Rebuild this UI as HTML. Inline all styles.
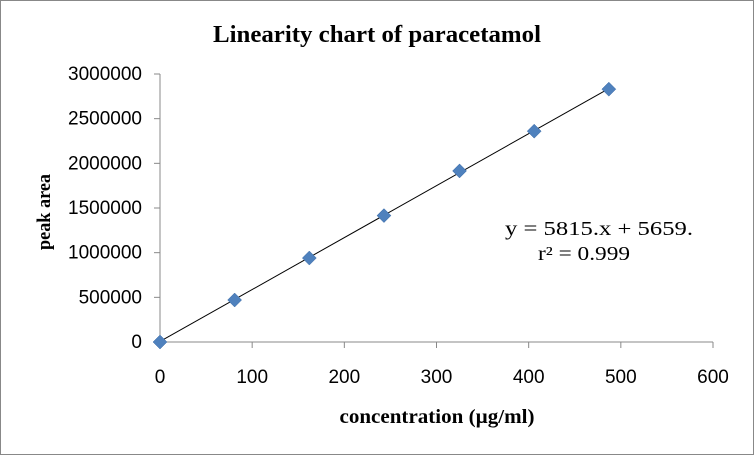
<!DOCTYPE html>
<html><head><meta charset="utf-8"><style>
body{margin:0;background:#fff}
svg text{font-family:"Liberation Sans",sans-serif}
.serif{font-family:"Liberation Serif",serif}
</style></head><body>
<svg width="754" height="455" viewBox="0 0 754 455">
<rect x="0.5" y="0.5" width="753" height="454" fill="#fff" stroke="#888"/>
<text class="serif" x="377" y="42" text-anchor="middle" font-size="24" font-weight="bold" textLength="328" lengthAdjust="spacingAndGlyphs">Linearity chart of paracetamol</text>
<g id="axes"></g>
<g id="marks"></g>
<text class="serif" x="437" y="423" text-anchor="middle" font-size="20" font-weight="bold" textLength="195" lengthAdjust="spacingAndGlyphs">concentration (µg/ml)</text>
<text class="serif" transform="translate(50,212) rotate(-90)" text-anchor="middle" font-size="19" font-weight="bold" textLength="76" lengthAdjust="spacingAndGlyphs">peak area</text>
<text class="serif" x="599" y="235" text-anchor="middle" font-size="20" textLength="188" lengthAdjust="spacingAndGlyphs">y = 5815.x + 5659.</text>
<text class="serif" x="584" y="260" text-anchor="middle" font-size="20" textLength="92" lengthAdjust="spacingAndGlyphs">r² = 0.999</text>
</svg>
<script>
const xTicks=[0,100,200,300,400,500,600];
const yTicks=[0,500000,1000000,1500000,2000000,2500000,3000000];
const concentrations=[0,81,162,243,325,406,487];
const peakAreas=[0,470000,940000,1415000,1915000,2360000,2830000];
const slope=5815, intercept=5659;
const NS='http://www.w3.org/2000/svg';
const X=v=>160+v*(713-160)/600;
const Y=v=>342-v*(342-74)/3000000;
function mk(t,a,p){const e=document.createElementNS(NS,t);for(const k in a)e.setAttribute(k,a[k]);p.appendChild(e);return e;}
const ax=document.getElementById('axes'), mg=document.getElementById('marks');
let l=mk('line',{x1:160,y1:74,x2:160,y2:342,stroke:'#888'},ax);


l=mk('line',{x1:160,y1:342,x2:713,y2:342,stroke:'#888'},ax);


yTicks.forEach(v=>{
 const t=mk('line',{x1:154,y1:Y(v),x2:160,y2:Y(v),stroke:'#888'},ax);
 
 
 const tx=mk('text',{x:142,y:Y(v)+6,'text-anchor':'end','font-size':19},ax);
 tx.textContent=v;
 
 
});
xTicks.forEach(v=>{
 const t=mk('line',{x1:X(v),y1:342,x2:X(v),y2:348,stroke:'#888'},ax);
 
 
 const tx=mk('text',{x:X(v),y:383,'text-anchor':'middle','font-size':19},ax);
 tx.textContent=v;
 
 
});
const x0=concentrations[0], x1=concentrations[concentrations.length-1];
const tl=mk('line',{x1:X(x0),y1:Y(Math.max(0,slope*x0+intercept)),x2:X(x1),y2:Y(slope*x1+intercept),stroke:'#000','stroke-width':1},mg);


concentrations.forEach((c,i)=>{
 const cx=X(c), cy=Y(peakAreas[i]);
 const p=mk('polygon',{points:`${cx},${cy-7} ${cx+7},${cy} ${cx},${cy+7} ${cx-7},${cy}`,fill:'#4f81bd',stroke:'#3a6aa5','stroke-width':0.5},mg);
 
 
});
</script>
</body></html>
